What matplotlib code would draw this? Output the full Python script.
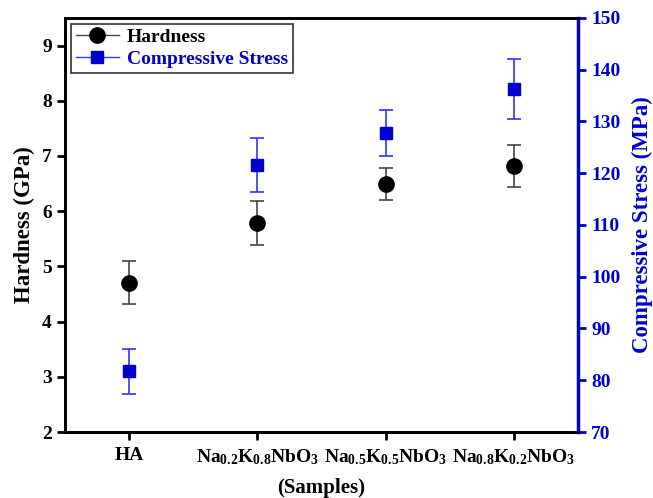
import matplotlib

matplotlib.use("Agg")

import matplotlib.pyplot as plt
from matplotlib.lines import Line2D

plt.rcParams["font.family"] = ["Liberation Serif", "DejaVu Serif"]
plt.rcParams["font.weight"] = "bold"
plt.rcParams["mathtext.fontset"] = "custom"
plt.rcParams["mathtext.rm"] = "Liberation Serif:bold"
plt.rcParams["mathtext.bf"] = "Liberation Serif:bold"
plt.rcParams["mathtext.it"] = "Liberation Serif:bold"

samples = [
    "HA",
    r"$\mathbf{Na_{0.2}K_{0.8}NbO_3}$",
    r"$\mathbf{Na_{0.5}K_{0.5}NbO_3}$",
    r"$\mathbf{Na_{0.8}K_{0.2}NbO_3}$",
]
hardness = [4.70, 5.79, 6.49, 6.82]
hardness_err = [0.39, 0.40, 0.29, 0.38]
stress = [81.7, 121.6, 127.8, 136.2]
stress_err = [4.4, 5.2, 4.5, 5.8]

BLUE = "#0000cc"
x = list(range(1, len(samples) + 1))

fig = plt.figure(figsize=(6.53, 4.98), dpi=100)
ax = fig.add_axes([0.0995, 0.1325, 0.7855, 0.8315])
ax2 = ax.twinx()

ax.errorbar(x, hardness, yerr=hardness_err, fmt="o", color="black", ms=11,
            ecolor="#444444", elinewidth=1.2, capsize=5, capthick=1.2, zorder=3)
ax2.errorbar(x, stress, yerr=stress_err, fmt="s", color=BLUE, ms=9,
             ecolor="#3333ff", elinewidth=1.2, capsize=5, capthick=1.2, zorder=3)

ax.set_xlim(0.5, 4.5)
ax.set_ylim(2, 9.5)
ax2.set_ylim(70, 150)
ax.set_xticks(x)
ax.set_xticklabels(samples, fontsize=14)
ax.set_yticks(range(2, 10))
ax2.set_yticks(range(70, 151, 10))

ax.set_ylabel("Hardness (GPa)", fontsize=16.5, fontweight="bold", labelpad=5)
ax2.set_ylabel("Compressive Stress (MPa)", fontsize=16.5, fontweight="bold",
               color=BLUE, labelpad=8)
ax.set_xlabel("(Samples)", fontsize=15, fontweight="bold", labelpad=8)

ax.tick_params(axis="both", direction="out", length=6, width=2, labelsize=14)
ax.tick_params(axis="x", pad=5)
ax2.tick_params(axis="y", direction="out", length=6, width=2, labelsize=14,
                colors=BLUE)

for side in ["left", "bottom", "top"]:
    ax2.spines[side].set_linewidth(2)
ax2.spines["right"].set_linewidth(2.5)
ax2.spines["right"].set_color(BLUE)
for side in ["left", "bottom", "top", "right"]:
    ax.spines[side].set_linewidth(2)

handles = [
    Line2D([], [], color="#444444", lw=1, marker="o", ms=11,
           mfc="black", mec="black"),
    Line2D([], [], color="#3333ff", lw=1, marker="s", ms=9,
           mfc=BLUE, mec=BLUE),
]
leg = ax2.legend(handles, ["Hardness", "Compressive Stress"], loc="upper left",
                 bbox_to_anchor=(0.012, 0.986), borderaxespad=0, fontsize=14,
                 frameon=True, fancybox=False, edgecolor="black",
                 handlelength=2.2, handletextpad=0.4, borderpad=0.25,
                 labelspacing=0.2)
leg.get_frame().set_linewidth(1.2)
leg.get_texts()[1].set_color(BLUE)

fig.savefig("out.png", dpi=100)
plt.close(fig)
